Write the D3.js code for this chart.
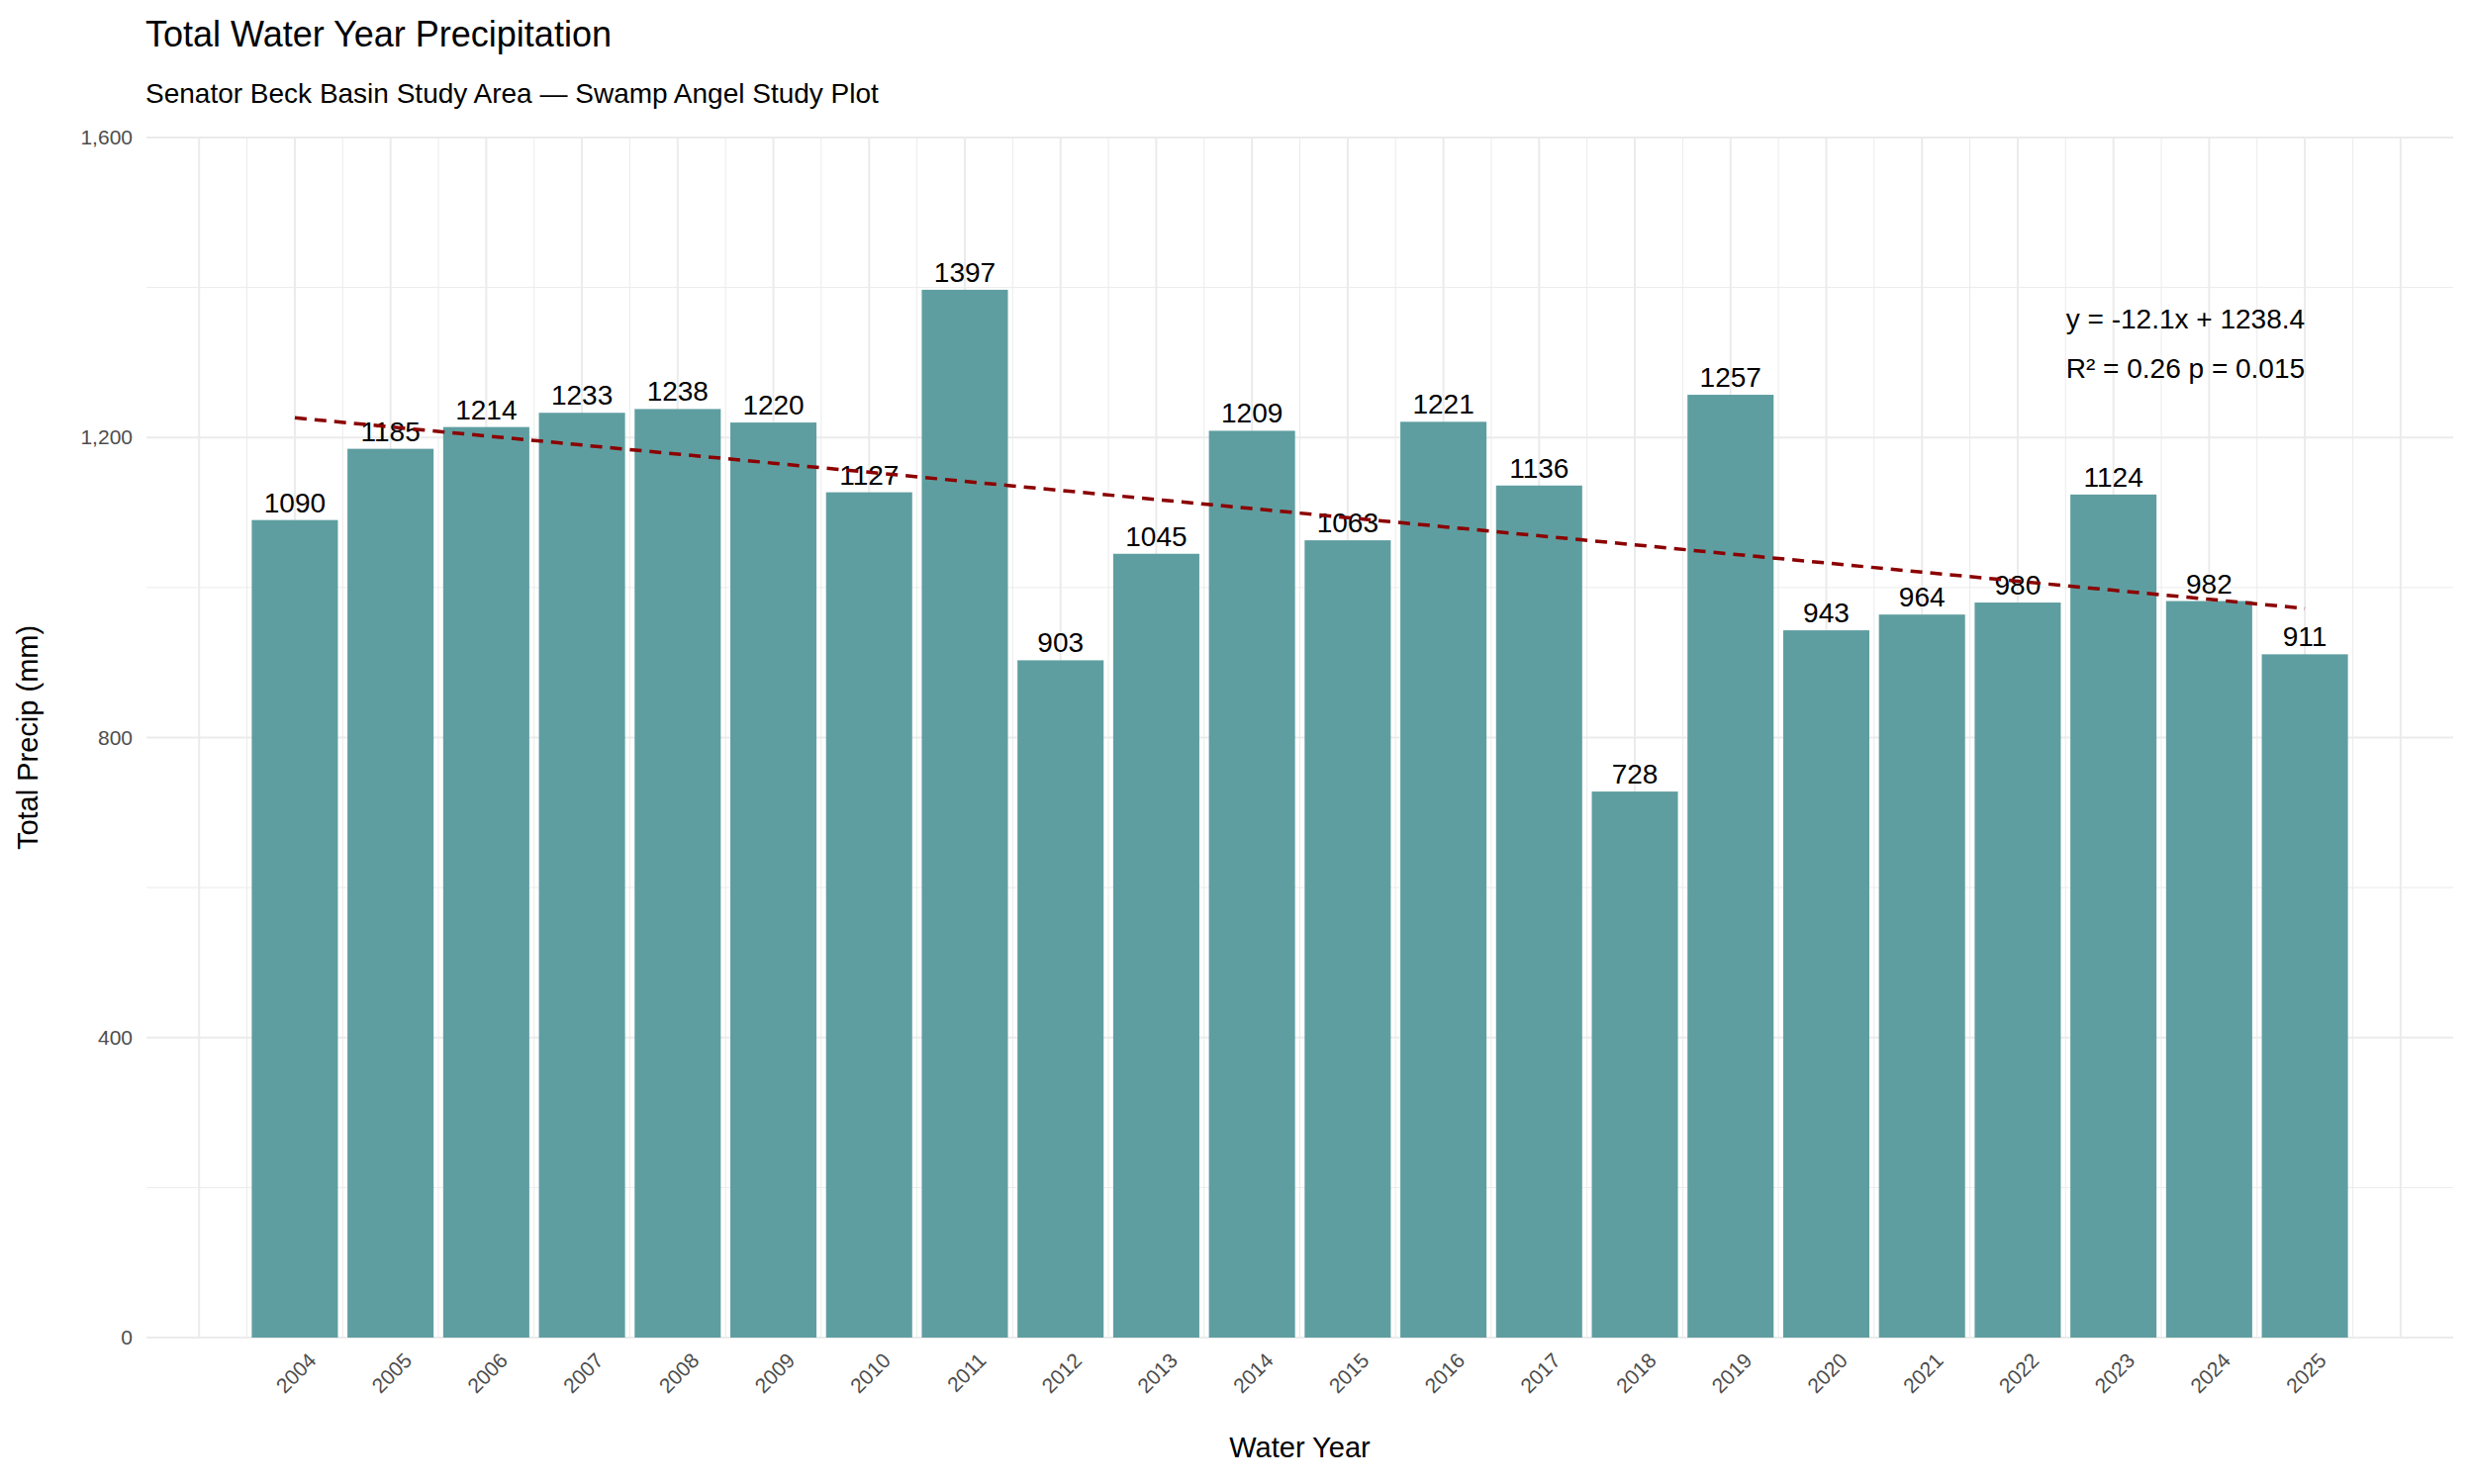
<!DOCTYPE html>
<html><head><meta charset="utf-8">
<script src="https://cdn.jsdelivr.net/npm/d3@7"></script>
<style>body{margin:0;background:#fff}text{font-family:"Liberation Sans",Arial,sans-serif}</style>
</head><body><svg id="c" width="2500" height="1500"></svg>
<script>
const years=[2004,2005,2006,2007,2008,2009,2010,2011,2012,2013,2014,2015,2016,2017,2018,2019,2020,2021,2022,2023,2024,2025];
const precip=[1090,1185,1214,1233,1238,1220,1127,1397,903,1045,1209,1063,1221,1136,728,1257,943,964,980,1124,982,911];
const yTicks=[0,400,800,1200,1600];
const slope=-12.1, intercept=1238.4;
const svg=d3.select("#c");
const L=148,R=2479,T=139,B=1352;
const x=d3.scaleLinear().domain([2002.45,2026.55]).range([L,R]);
const y=d3.scaleLinear().domain([0,1600]).range([B,T]);
const g=svg.append("g");
// grid
d3.range(2003,2026.01,0.5).forEach(v=>g.append("line").attr("x1",x(v)).attr("x2",x(v)).attr("y1",T).attr("y2",B)
 .attr("stroke","#ebebeb").attr("stroke-width",Number.isInteger(v)?2:1));
d3.range(0,1601,200).forEach(v=>g.append("line").attr("x1",L).attr("x2",R).attr("y1",y(v)).attr("y2",y(v))
 .attr("stroke","#ebebeb").attr("stroke-width",v%400==0?2:1));
// bars
g.selectAll("rect").data(years).join("rect").attr("x",d=>x(d-0.45)).attr("width",x(0.9)-x(0))
 .attr("y",(d,i)=>y(precip[i])).attr("height",(d,i)=>B-y(precip[i])).attr("fill","#5f9ea0");
g.selectAll(".lab").data(years).join("text").attr("x",d=>x(d)).attr("y",(d,i)=>y(precip[i])-8)
 .attr("text-anchor","middle").attr("font-size",28).attr("fill","#000").text((d,i)=>precip[i]);
// trend
const tr=years.map((d,i)=>[d,slope*(i+1)+intercept]);
g.append("path").attr("d",d3.line().x(d=>x(d[0])).y(d=>y(d[1]))(tr)).attr("fill","none")
 .attr("stroke","#8b0000").attr("stroke-width",3.5).attr("stroke-dasharray","12,8");
// axes
const ya=svg.append("g").attr("transform",`translate(${L},0)`).call(d3.axisLeft(y).tickValues(yTicks).tickSize(0).tickPadding(14));
ya.select(".domain").remove();ya.selectAll("text").attr("font-size",21).attr("fill","#4d4d4d").style("font-family","Liberation Sans");
const xa=svg.append("g").attr("transform",`translate(0,${B})`).call(d3.axisBottom(x).tickValues(years).tickFormat(d3.format("d")).tickSize(0));
xa.select(".domain").remove();
xa.selectAll("text").attr("font-size",21).attr("fill","#4d4d4d").style("font-family","Liberation Sans")
 .attr("text-anchor","end").attr("transform","translate(12,14) rotate(-45)").attr("dy","0.7em").attr("y",0).attr("x",0);
// annotation
svg.append("text").attr("x",x(2025)).attr("y",332).attr("text-anchor","end").attr("font-size",28).text("y = -12.1x + 1238.4");
svg.append("text").attr("x",x(2025)).attr("y",382).attr("text-anchor","end").attr("font-size",28).text("R² = 0.26  p = 0.015");
// titles
svg.append("text").attr("x",147).attr("y",47).attr("font-size",36).text("Total Water Year Precipitation");
svg.append("text").attr("x",147).attr("y",104).attr("font-size",28).text("Senator Beck Basin Study Area — Swamp Angel Study Plot");
svg.append("text").attr("x",(L+R)/2).attr("y",1473).attr("text-anchor","middle").attr("font-size",29).text("Water Year");
svg.append("text").attr("transform",`translate(38,${(T+B)/2}) rotate(-90)`).attr("text-anchor","middle").attr("font-size",29).text("Total Precip (mm)");
</script></body></html>
